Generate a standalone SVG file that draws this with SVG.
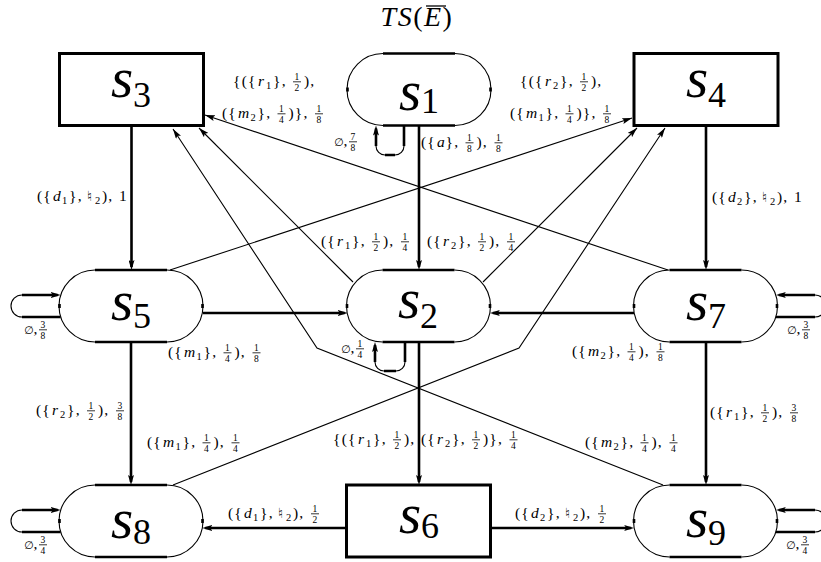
<svg xmlns="http://www.w3.org/2000/svg" width="821" height="562" viewBox="0 0 821 562">
<defs>
<style>
.lb{font-family:"Liberation Serif",serif;font-size:15.5px;letter-spacing:1.2px;fill:#000}
.i{font-style:italic}
.s{font-size:10.5px;letter-spacing:0}
.f{font-size:9.5px;letter-spacing:0}
.e{font-family:"DejaVu Sans",sans-serif;font-size:11px;letter-spacing:0}
.n{font-family:"DejaVu Sans",sans-serif;font-size:14px;letter-spacing:0}
.bar{stroke:#000;stroke-width:0.8;fill:none}
.nl{font-family:"Liberation Serif",serif;font-size:57px;fill:#000}
.sb{font-size:36px;font-style:normal}
.thick{stroke:#000;stroke-width:2.6;fill:none}
.thin{stroke:#000;stroke-width:1.1;fill:none}
.box{stroke:#000;stroke-width:3;fill:#fff}
.bg{fill:#fff;stroke:none}
</style>
<marker id="aht" viewBox="0 0 10 6" refX="7" refY="3" markerWidth="10" markerHeight="6" markerUnits="userSpaceOnUse" orient="auto"><path d="M0,0 L10,3 L0,6 L2,3 z" fill="#000"/></marker>
<marker id="ah" viewBox="0 0 10 6" refX="10" refY="3" markerWidth="10" markerHeight="6" markerUnits="userSpaceOnUse" orient="auto"><path d="M0,0 L10,3 L0,6 L2,3 z" fill="#000"/></marker>
</defs>
<rect width="821" height="562" fill="#fff"/>

<g id="title">
<text x="417" y="26" text-anchor="middle" font-family="Liberation Serif" font-size="28" letter-spacing="1.5"><tspan font-style="italic">TS</tspan>(<tspan font-style="italic">E</tspan>)</text>
<line x1="426" y1="6" x2="446" y2="6" stroke="#000" stroke-width="1.3"/>
</g>

<g id="connectors">
<path class="thick" marker-end="url(#aht)" d="M419,125.5 V267"/>
<path class="thick" marker-end="url(#aht)" d="M131.5,125.5 V267"/>
<path class="thick" marker-end="url(#aht)" d="M706,125.5 V267"/>
<path class="thick" marker-end="url(#aht)" d="M419,342 V482"/>
<path class="thick" marker-end="url(#aht)" d="M131,342 V482"/>
<path class="thick" marker-end="url(#aht)" d="M706,342 V482"/>
<path class="thick" marker-end="url(#aht)" d="M203,313 H344.7"/>
<path class="thick" marker-end="url(#aht)" d="M634.2,313 H492.8"/>
<path class="thick" marker-end="url(#aht)" d="M346.5,528 H205.3"/>
<path class="thick" marker-end="url(#aht)" d="M490.5,528 H631.2"/>
<path class="thin" marker-end="url(#ah)" d="M668,270 L205,115"/>
<path class="thin" marker-end="url(#ah)" d="M353,282 L199,128"/>
<path class="thin" marker-end="url(#ah)" d="M663,485 L317,348 L173,129"/>
<path class="thin" marker-end="url(#ah)" d="M170,270 L632,118"/>
<path class="thin" marker-end="url(#ah)" d="M483,282 L637,128"/>
<path class="thin" marker-end="url(#ah)" d="M173,485 L519,348 L665,128"/>
<path class="thick" d="M404,125.5 V146 M395,155 H385"/>
<path class="thin" d="M404,146 A9,9 0 0 1 395,155 M385,155 A9,9 0 0 1 376,146"/>
<path class="thick" marker-end="url(#aht)" d="M376,146 V128.5"/>
<path class="thick" d="M405,342 V362 M396,371 H384"/>
<path class="thin" d="M405,362 A9,9 0 0 1 396,371 M384,371 A9,9 0 0 1 375,362"/>
<path class="thick" marker-end="url(#aht)" d="M375,362 V345"/>
<path class="thick" d="M60.7,317 H22"/>
<path class="thin" d="M22,317 A11,11 0 0 1 22,295"/>
<path class="thick" marker-end="url(#aht)" d="M22,295 H57.7"/>
<path class="thick" d="M775.8,317 H815"/>
<path class="thin" d="M815,317 A11,11 0 0 0 815,295"/>
<path class="thick" marker-end="url(#aht)" d="M815,295 H778.8"/>
<path class="thick" d="M60.7,532 H22"/>
<path class="thin" d="M22,532 A11,11 0 0 1 22,510"/>
<path class="thick" marker-end="url(#aht)" d="M22,510 H57.7"/>
<path class="thick" d="M775.8,532 H815"/>
<path class="thin" d="M815,532 A11,11 0 0 0 815,510"/>
<path class="thick" marker-end="url(#aht)" d="M815,510 H778.8"/>
</g>

<g id="s1">
<rect class="bg" x="347" y="53.5" width="144" height="72" rx="36"/>
<path class="thin" d="M383,53.5 A36,36 0 0 0 383,125.5 M455,53.5 A36,36 0 0 1 455,125.5"/>
<path class="thick" d="M383,53.5 H455 M383,125.5 H455 M347.5,87.5 V91.5 M490.5,87.5 V91.5"/>
<text class="nl" x="419" y="110" text-anchor="middle"><tspan class="i">s</tspan><tspan class="sb" dy="3">1</tspan></text>
</g>
<g id="s2">
<rect class="bg" x="346.5" y="270" width="144" height="72" rx="36"/>
<path class="thin" d="M382.5,270 A36,36 0 0 0 382.5,342 M454.5,270 A36,36 0 0 1 454.5,342"/>
<path class="thick" d="M382.5,270 H454.5 M382.5,342 H454.5 M347,304 V308 M490,304 V308"/>
<text class="nl" x="418" y="318" text-anchor="middle"><tspan class="i">s</tspan><tspan class="sb" dy="10">2</tspan></text>
</g>
<g id="s3">
<rect class="box" x="59.5" y="53.5" width="144" height="72"/>
<text class="nl" x="131" y="97" text-anchor="middle"><tspan class="i">s</tspan><tspan class="sb" dy="10">3</tspan></text>
</g>
<g id="s4">
<rect class="box" x="634" y="53.5" width="144" height="72"/>
<text class="nl" x="706" y="97" text-anchor="middle"><tspan class="i">s</tspan><tspan class="sb" dy="10">4</tspan></text>
</g>
<g id="s5">
<rect class="bg" x="59" y="270" width="144" height="72" rx="36"/>
<path class="thin" d="M95,270 A36,36 0 0 0 95,342 M167,270 A36,36 0 0 1 167,342"/>
<path class="thick" d="M95,270 H167 M95,342 H167 M59.5,304 V308 M202.5,304 V308"/>
<text class="nl" x="131" y="320" text-anchor="middle"><tspan class="i">s</tspan><tspan class="sb" dy="8">5</tspan></text>
</g>
<g id="s6">
<rect class="box" x="346.5" y="485" width="144" height="72"/>
<text class="nl" x="419" y="533" text-anchor="middle"><tspan class="i">s</tspan><tspan class="sb" dy="5">6</tspan></text>
</g>
<g id="s7">
<rect class="bg" x="633.5" y="270" width="144" height="72" rx="36"/>
<path class="thin" d="M669.5,270 A36,36 0 0 0 669.5,342 M741.5,270 A36,36 0 0 1 741.5,342"/>
<path class="thick" d="M669.5,270 H741.5 M669.5,342 H741.5 M634,304 V308 M777,304 V308"/>
<text class="nl" x="706" y="320" text-anchor="middle"><tspan class="i">s</tspan><tspan class="sb" dy="8">7</tspan></text>
</g>
<g id="s8">
<rect class="bg" x="59" y="485" width="144" height="72" rx="36"/>
<path class="thin" d="M95,485 A36,36 0 0 0 95,557 M167,485 A36,36 0 0 1 167,557"/>
<path class="thick" d="M95,485 H167 M95,557 H167 M59.5,519 V523 M202.5,519 V523"/>
<text class="nl" x="131" y="538" text-anchor="middle"><tspan class="i">s</tspan><tspan class="sb" dy="6">8</tspan></text>
</g>
<g id="s9">
<rect class="bg" x="633.5" y="485" width="144" height="72" rx="36"/>
<path class="thin" d="M669.5,485 A36,36 0 0 0 669.5,557 M741.5,485 A36,36 0 0 1 741.5,557"/>
<path class="thick" d="M669.5,485 H741.5 M669.5,557 H741.5 M634,519 V523 M777,519 V523"/>
<text class="nl" x="706" y="537" text-anchor="middle"><tspan class="i">s</tspan><tspan class="sb" dy="8">9</tspan></text>
</g>

<g id="edge-labels">
<text class="lb" y="146"><tspan class="e" x="334">∅</tspan><tspan x="343.5">,</tspan><tspan class="f" x="350.6" y="139.5">7</tspan><tspan class="f" x="350.6" y="150.5">8</tspan></text>
<path class="bar" d="M349,141.8H357"/>
<text class="lb" y="147"><tspan x="421">({</tspan><tspan class="i" x="437">a</tspan><tspan x="445.5">},</tspan><tspan class="f" x="467.1" y="140.5">1</tspan><tspan class="f" x="467.1" y="151.5">8</tspan><tspan x="476.5" y="147">),</tspan><tspan class="f" x="496.1" y="140.5">1</tspan><tspan class="f" x="496.1" y="151.5">8</tspan></text>
<path class="bar" d="M465.5,142.8H473.5 M494.5,142.8H502.5"/>
<text class="lb" y="86"><tspan x="233">{({</tspan><tspan class="i" x="258">r</tspan><tspan class="s" x="266" y="89">1</tspan><tspan x="273" y="86">},</tspan><tspan class="f" x="294.6" y="79.5">1</tspan><tspan class="f" x="294.6" y="90.5">2</tspan><tspan x="304" y="86">),</tspan></text>
<path class="bar" d="M293,81.8H301"/>
<text class="lb" y="118"><tspan x="222">({</tspan><tspan class="i" x="238">m</tspan><tspan class="s" x="250.5" y="121">2</tspan><tspan x="257.5" y="118">},</tspan><tspan class="f" x="279.1" y="111.5">1</tspan><tspan class="f" x="279.1" y="122.5">4</tspan><tspan x="288.5" y="118">)},</tspan><tspan class="f" x="316.6" y="111.5">1</tspan><tspan class="f" x="316.6" y="122.5">8</tspan></text>
<path class="bar" d="M277.5,113.8H285.5 M315,113.8H323"/>
<text class="lb" y="86"><tspan x="520">{({</tspan><tspan class="i" x="545">r</tspan><tspan class="s" x="553" y="89">2</tspan><tspan x="560" y="86">},</tspan><tspan class="f" x="581.6" y="79.5">1</tspan><tspan class="f" x="581.6" y="90.5">2</tspan><tspan x="591" y="86">),</tspan></text>
<path class="bar" d="M580,81.8H588"/>
<text class="lb" y="118"><tspan x="510">({</tspan><tspan class="i" x="526">m</tspan><tspan class="s" x="538.5" y="121">1</tspan><tspan x="545.5" y="118">},</tspan><tspan class="f" x="567.1" y="111.5">1</tspan><tspan class="f" x="567.1" y="122.5">4</tspan><tspan x="576.5" y="118">)},</tspan><tspan class="f" x="604.6" y="111.5">1</tspan><tspan class="f" x="604.6" y="122.5">8</tspan></text>
<path class="bar" d="M565.5,113.8H573.5 M603,113.8H611"/>
<text class="lb" y="201"><tspan x="37">({</tspan><tspan class="i" x="53">d</tspan><tspan class="s" x="62" y="204">1</tspan><tspan x="69" y="201">},</tspan><tspan class="n" x="87">♮</tspan><tspan class="s" x="95" y="204">2</tspan><tspan x="102" y="201">),</tspan><tspan x="119">1</tspan></text>
<text class="lb" y="202"><tspan x="712">({</tspan><tspan class="i" x="728">d</tspan><tspan class="s" x="737" y="205">2</tspan><tspan x="744" y="202">},</tspan><tspan class="n" x="762">♮</tspan><tspan class="s" x="770" y="205">2</tspan><tspan x="777" y="202">),</tspan><tspan x="794">1</tspan></text>
<text class="lb" y="246"><tspan x="321">({</tspan><tspan class="i" x="337">r</tspan><tspan class="s" x="345" y="249">1</tspan><tspan x="352" y="246">},</tspan><tspan class="f" x="373.6" y="239.5">1</tspan><tspan class="f" x="373.6" y="250.5">2</tspan><tspan x="383" y="246">),</tspan><tspan class="f" x="402.6" y="239.5">1</tspan><tspan class="f" x="402.6" y="250.5">4</tspan></text>
<path class="bar" d="M372,241.8H380 M401,241.8H409"/>
<text class="lb" y="246"><tspan x="427">({</tspan><tspan class="i" x="443">r</tspan><tspan class="s" x="451" y="249">2</tspan><tspan x="458" y="246">},</tspan><tspan class="f" x="479.6" y="239.5">1</tspan><tspan class="f" x="479.6" y="250.5">2</tspan><tspan x="489" y="246">),</tspan><tspan class="f" x="508.6" y="239.5">1</tspan><tspan class="f" x="508.6" y="250.5">4</tspan></text>
<path class="bar" d="M478,241.8H486 M507,241.8H515"/>
<text class="lb" y="334"><tspan class="e" x="24">∅</tspan><tspan x="33.5">,</tspan><tspan class="f" x="40.6" y="327.5">3</tspan><tspan class="f" x="40.6" y="338.5">8</tspan></text>
<path class="bar" d="M39,329.8H47"/>
<text class="lb" y="357"><tspan x="168">({</tspan><tspan class="i" x="184">m</tspan><tspan class="s" x="196.5" y="360">1</tspan><tspan x="203.5" y="357">},</tspan><tspan class="f" x="225.1" y="350.5">1</tspan><tspan class="f" x="225.1" y="361.5">4</tspan><tspan x="234.5" y="357">),</tspan><tspan class="f" x="254.1" y="350.5">1</tspan><tspan class="f" x="254.1" y="361.5">8</tspan></text>
<path class="bar" d="M223.5,352.8H231.5 M252.5,352.8H260.5"/>
<text class="lb" y="356"><tspan x="572">({</tspan><tspan class="i" x="588">m</tspan><tspan class="s" x="600.5" y="359">2</tspan><tspan x="607.5" y="356">},</tspan><tspan class="f" x="629.1" y="349.5">1</tspan><tspan class="f" x="629.1" y="360.5">4</tspan><tspan x="638.5" y="356">),</tspan><tspan class="f" x="658.1" y="349.5">1</tspan><tspan class="f" x="658.1" y="360.5">8</tspan></text>
<path class="bar" d="M627.5,351.8H635.5 M656.5,351.8H664.5"/>
<text class="lb" y="334"><tspan class="e" x="787">∅</tspan><tspan x="796.5">,</tspan><tspan class="f" x="803.6" y="327.5">3</tspan><tspan class="f" x="803.6" y="338.5">8</tspan></text>
<path class="bar" d="M802,329.8H810"/>
<text class="lb" y="353"><tspan class="e" x="341">∅</tspan><tspan x="350.5">,</tspan><tspan class="f" x="357.6" y="346.5">1</tspan><tspan class="f" x="357.6" y="357.5">4</tspan></text>
<path class="bar" d="M356,348.8H364"/>
<text class="lb" y="415"><tspan x="36">({</tspan><tspan class="i" x="52">r</tspan><tspan class="s" x="60" y="418">2</tspan><tspan x="67" y="415">},</tspan><tspan class="f" x="88.6" y="408.5">1</tspan><tspan class="f" x="88.6" y="419.5">2</tspan><tspan x="98" y="415">),</tspan><tspan class="f" x="117.6" y="408.5">3</tspan><tspan class="f" x="117.6" y="419.5">8</tspan></text>
<path class="bar" d="M87,410.8H95 M116,410.8H124"/>
<text class="lb" y="447"><tspan x="147">({</tspan><tspan class="i" x="163">m</tspan><tspan class="s" x="175.5" y="450">1</tspan><tspan x="182.5" y="447">},</tspan><tspan class="f" x="204.1" y="440.5">1</tspan><tspan class="f" x="204.1" y="451.5">4</tspan><tspan x="213.5" y="447">),</tspan><tspan class="f" x="233.1" y="440.5">1</tspan><tspan class="f" x="233.1" y="451.5">4</tspan></text>
<path class="bar" d="M202.5,442.8H210.5 M231.5,442.8H239.5"/>
<text class="lb" y="444"><tspan x="333">{({</tspan><tspan class="i" x="358">r</tspan><tspan class="s" x="366" y="447">1</tspan><tspan x="373" y="444">},</tspan><tspan class="f" x="394.6" y="437.5">1</tspan><tspan class="f" x="394.6" y="448.5">2</tspan><tspan x="404" y="444">),</tspan><tspan x="421">({</tspan><tspan class="i" x="437">r</tspan><tspan class="s" x="445" y="447">2</tspan><tspan x="452" y="444">},</tspan><tspan class="f" x="473.6" y="437.5">1</tspan><tspan class="f" x="473.6" y="448.5">2</tspan><tspan x="483" y="444">)},</tspan><tspan class="f" x="511.1" y="437.5">1</tspan><tspan class="f" x="511.1" y="448.5">4</tspan></text>
<path class="bar" d="M393,439.8H401 M472,439.8H480 M509.5,439.8H517.5"/>
<text class="lb" y="447"><tspan x="585">({</tspan><tspan class="i" x="601">m</tspan><tspan class="s" x="613.5" y="450">2</tspan><tspan x="620.5" y="447">},</tspan><tspan class="f" x="642.1" y="440.5">1</tspan><tspan class="f" x="642.1" y="451.5">4</tspan><tspan x="651.5" y="447">),</tspan><tspan class="f" x="671.1" y="440.5">1</tspan><tspan class="f" x="671.1" y="451.5">4</tspan></text>
<path class="bar" d="M640.5,442.8H648.5 M669.5,442.8H677.5"/>
<text class="lb" y="417"><tspan x="710">({</tspan><tspan class="i" x="726">r</tspan><tspan class="s" x="734" y="420">1</tspan><tspan x="741" y="417">},</tspan><tspan class="f" x="762.6" y="410.5">1</tspan><tspan class="f" x="762.6" y="421.5">2</tspan><tspan x="772" y="417">),</tspan><tspan class="f" x="791.6" y="410.5">3</tspan><tspan class="f" x="791.6" y="421.5">8</tspan></text>
<path class="bar" d="M761,412.8H769 M790,412.8H798"/>
<text class="lb" y="518"><tspan x="228">({</tspan><tspan class="i" x="244">d</tspan><tspan class="s" x="253" y="521">1</tspan><tspan x="260" y="518">},</tspan><tspan class="n" x="278">♮</tspan><tspan class="s" x="286" y="521">2</tspan><tspan x="293" y="518">),</tspan><tspan class="f" x="312.6" y="511.5">1</tspan><tspan class="f" x="312.6" y="522.5">2</tspan></text>
<path class="bar" d="M311,513.8H319"/>
<text class="lb" y="518"><tspan x="515">({</tspan><tspan class="i" x="531">d</tspan><tspan class="s" x="540" y="521">2</tspan><tspan x="547" y="518">},</tspan><tspan class="n" x="565">♮</tspan><tspan class="s" x="573" y="521">2</tspan><tspan x="580" y="518">),</tspan><tspan class="f" x="599.6" y="511.5">1</tspan><tspan class="f" x="599.6" y="522.5">2</tspan></text>
<path class="bar" d="M598,513.8H606"/>
<text class="lb" y="549"><tspan class="e" x="24">∅</tspan><tspan x="33.5">,</tspan><tspan class="f" x="40.6" y="542.5">3</tspan><tspan class="f" x="40.6" y="553.5">4</tspan></text>
<path class="bar" d="M39,544.8H47"/>
<text class="lb" y="549"><tspan class="e" x="786">∅</tspan><tspan x="795.5">,</tspan><tspan class="f" x="802.6" y="542.5">3</tspan><tspan class="f" x="802.6" y="553.5">4</tspan></text>
<path class="bar" d="M801,544.8H809"/>
</g>
</svg>
